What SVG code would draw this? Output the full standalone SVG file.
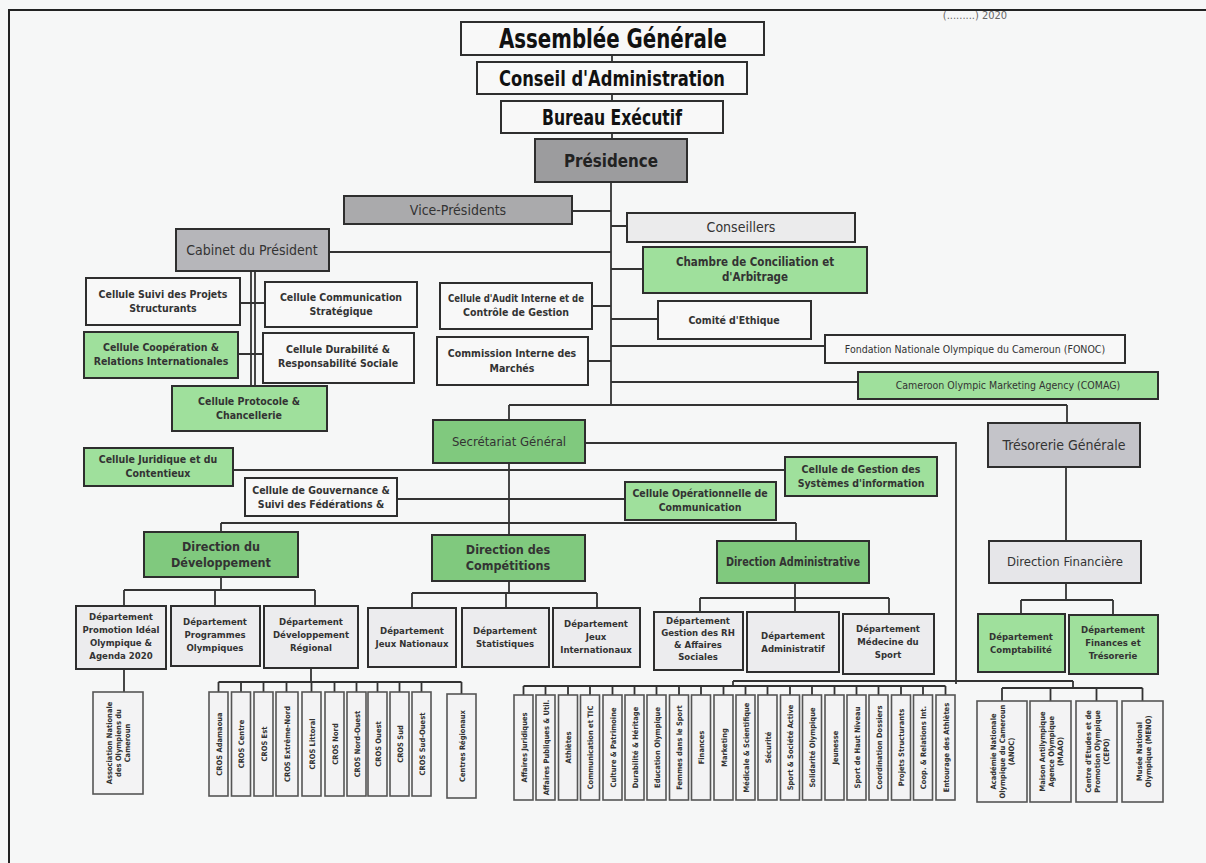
<svg xmlns="http://www.w3.org/2000/svg" width="1206" height="863" viewBox="0 0 1206 863">
<style>
.t{font-family:"Liberation Sans Narrow","DejaVu Sans Condensed","Liberation Sans",sans-serif;font-weight:bold;fill:#333;text-anchor:middle}
.n{font-weight:normal}
.b{stroke:#2e2e2e;stroke-width:2}
.bw{fill:#f8f8f8}
.bg{fill:#9fe09c}
.bdg{fill:#80c97e}
.bl{fill:#ececee}
.bv{fill:#f3f3f4;stroke:#555;stroke-width:1.6}
.c{fill:none;stroke:#333;stroke-width:1.8}
.s11{font-size:10.5px}
.s9{font-size:9.5px}
.s8{font-size:7.5px}
</style>
<rect width="1206" height="863" fill="#f6f7f7"/>
<path d="M8,10 H1206 M9,10 V863" stroke="#222" stroke-width="2" fill="none"/>
<text x="975" y="19" class="t n" font-size="11" style="fill:#666">(.........)  2020</text>

<g id="connectors" class="c">
<path d="M612,55V62M612,94V101M612,133V139"/>
<path d="M611,182V405M509,405H1067M509,405V420M1067,405V423"/>
<path d="M572,211H611M611,226H627M329,252H611M611,269H643M592,306H611M611,319H658M588,361H611M611,346H825M611,382H858"/>
<path d="M251,271V386M255,271V386M240,303H265M238,354H263"/>
<path d="M585,443H956V684"/>
<path d="M509,463V535M233,470H785M397,499H625M221,523H796M221,523V532M796,523V541"/>
<path d="M1066,467V541M1066,583V600M1021,600H1113M1021,600V614M1113,600V615"/>
<path d="M221,577V590M124,590H315M124,590V606M215,590V606M315,590V606"/>
<path d="M509,581V593M412,593H597M412,593V608M506,593V608M597,593V608"/>
<path d="M795,583V598M700,598H889M700,598V612M795,598V612M889,598V614"/>
<path d="M124,669V692M311,668V682M218.5,682H461.5"/>
<path d="M218.5,682V692M241,682V692M263.5,682V692M286.5,682V692M311.5,682V692M334.5,682V692M356.5,682V692M377.5,682V692M399.5,682V692M421.5,682V692M461.5,682V694"/>
<path d="M733,681H1073M733,681V686M1073,681V688M523.5,686H945.5"/>
<path d="M523.5,686V695M545.5,686V695M568,686V695M590,686V695M612.5,686V695M634.5,686V695M656.5,686V695M679,686V695M701,686V695M723.5,686V695M745.5,686V695M767.5,686V695M790,686V695M812,686V695M834.5,686V695M856.5,686V695M878.5,686V695M901,686V695M923,686V695M945.5,686V695"/>
<path d="M1002,688H1142.5M1002,688V701M1050.5,688V701M1096.5,688V701M1142.5,688V701"/>
</g>

<g id="assemblee"><rect x="461" y="22" width="303" height="33" class="b bw" stroke-width="2.8"/><text x="613" y="48" class="t" font-size="27" textLength="228" lengthAdjust="spacingAndGlyphs" style="fill:#111">Assemblée Générale</text></g>
<g id="conseil"><rect x="477" y="62" width="270" height="32" class="b bw" stroke-width="2.8"/><text x="612" y="86" class="t" font-size="22" textLength="226" lengthAdjust="spacingAndGlyphs" style="fill:#111">Conseil d'Administration</text></g>
<g id="bureau"><rect x="501" y="101" width="222" height="32" class="b bw" stroke-width="2.8"/><text x="612" y="125" class="t" font-size="21" textLength="140" lengthAdjust="spacingAndGlyphs" style="fill:#111">Bureau Exécutif</text></g>
<g id="presidence"><rect x="535" y="139" width="152" height="43" class="b" fill="#9c9c9e" stroke-width="2.5"/><text x="611" y="167" class="t" font-size="17" textLength="94" lengthAdjust="spacingAndGlyphs" style="fill:#222">Présidence</text></g>

<g id="vice"><rect x="344" y="196" width="228" height="28" class="b" fill="#aaaaac"/><text x="458" y="215" class="t n" font-size="14">Vice-Présidents</text></g>
<g id="conseillers"><rect x="627" y="213" width="228" height="29" class="b" fill="#ebebec"/><text x="741" y="232" class="t n" font-size="14">Conseillers</text></g>
<g id="cabinet"><rect x="176" y="229" width="153" height="42" class="b" fill="#b6b6ba"/><text x="252" y="255" class="t n" font-size="14">Cabinet du Président</text></g>
<g id="chambre"><rect x="643" y="247" width="224" height="46" class="b bg"/><text x="755" y="266" class="t" font-size="11.5">Chambre de Conciliation et</text><text x="755" y="281" class="t" font-size="11.5">d'Arbitrage</text></g>
<g id="audit"><rect x="440" y="283" width="152" height="46" class="b bw"/><text x="516" y="302" class="t s11" textLength="136" lengthAdjust="spacingAndGlyphs">Cellule d'Audit Interne et de</text><text x="516" y="316" class="t s11">Contrôle de Gestion</text></g>
<g id="comite"><rect x="658" y="301" width="153" height="38" class="b bw"/><text x="734" y="324" class="t s11">Comité d'Ethique</text></g>
<g id="commission"><rect x="437" y="337" width="151" height="48" class="b bw"/><text x="512" y="357" class="t s11">Commission Interne des</text><text x="512" y="372" class="t s11">Marchés</text></g>
<g id="fonoc"><rect x="825" y="335" width="300" height="28" class="b bw"/><text x="975" y="353" class="t n" font-size="10.5">Fondation Nationale Olympique du Cameroun (FONOC)</text></g>
<g id="comag"><rect x="858" y="372" width="300" height="27" class="b bg"/><text x="1008" y="389" class="t n" font-size="10.5">Cameroon Olympic Marketing Agency (COMAG)</text></g>

<g id="suivi"><rect x="86" y="278" width="154" height="47" class="b bw"/><text x="163" y="298" class="t s11">Cellule Suivi des Projets</text><text x="163" y="312" class="t s11">Structurants</text></g>
<g id="communication"><rect x="265" y="282" width="152" height="45" class="b bw"/><text x="341" y="301" class="t s11">Cellule Communication</text><text x="341" y="315" class="t s11">Stratégique</text></g>
<g id="cooperation"><rect x="84" y="332" width="154" height="46" class="b bg"/><text x="161" y="351" class="t s11">Cellule Coopération &amp;</text><text x="161" y="365" class="t s11">Relations Internationales</text></g>
<g id="durabilite"><rect x="263" y="333" width="151" height="50" class="b bw"/><text x="338" y="353" class="t s11">Cellule Durabilité &amp;</text><text x="338" y="367" class="t s11">Responsabilité Sociale</text></g>
<g id="protocole"><rect x="172" y="386" width="155" height="45" class="b bg"/><text x="249" y="405" class="t s11">Cellule Protocole &amp;</text><text x="249" y="419" class="t s11">Chancellerie</text></g>

<g id="secretariat"><rect x="433" y="420" width="152" height="43" class="b bdg" stroke-width="2.5"/><text x="509" y="446" class="t n" font-size="13">Secrétariat Général</text></g>
<g id="tresorerie"><rect x="988" y="423" width="152" height="44" class="b" fill="#c4c4c9" stroke-width="2.5"/><text x="1064" y="450" class="t n" font-size="14">Trésorerie Générale</text></g>
<g id="juridique"><rect x="84" y="448" width="149" height="38" class="b bg"/><text x="158" y="463" class="t s11">Cellule Juridique et du</text><text x="158" y="477" class="t s11">Contentieux</text></g>
<g id="gestion"><rect x="785" y="457" width="152" height="39" class="b bg"/><text x="861" y="473" class="t s11">Cellule de Gestion des</text><text x="861" y="487" class="t s11">Systèmes d'information</text></g>
<g id="gouvernance"><rect x="245" y="478" width="152" height="38" class="b bw"/><text x="321" y="494" class="t s11">Cellule de Gouvernance &amp;</text><text x="321" y="508" class="t s11">Suivi des Fédérations &amp;</text></g>
<g id="operationnelle"><rect x="625" y="482" width="151" height="38" class="b bg"/><text x="700" y="497" class="t s11">Cellule Opérationnelle de</text><text x="700" y="511" class="t s11">Communication</text></g>

<g id="dir-dev"><rect x="144" y="532" width="154" height="45" class="b bdg" stroke-width="2.5"/><text x="221" y="551" class="t" font-size="12.5">Direction du</text><text x="221" y="567" class="t" font-size="12.5">Développement</text></g>
<g id="dir-comp"><rect x="432" y="535" width="153" height="46" class="b bdg" stroke-width="2.5"/><text x="508" y="554" class="t" font-size="12.5">Direction des</text><text x="508" y="570" class="t" font-size="12.5">Compétitions</text></g>
<g id="dir-adm"><rect x="717" y="541" width="152" height="42" class="b bdg" stroke-width="2.5"/><text x="793" y="566" class="t" font-size="12.5" textLength="134" lengthAdjust="spacingAndGlyphs">Direction Administrative</text></g>
<g id="dir-fin"><rect x="989" y="541" width="152" height="42" class="b" fill="#e6e6e9" stroke-width="2.5"/><text x="1065" y="566" class="t n" font-size="13">Direction Financière</text></g>

<g id="dep-promo"><rect x="76" y="606" width="90" height="63" class="b bl"/><text x="121" y="620" class="t s9">Département</text><text x="121" y="633" class="t s9">Promotion Idéal</text><text x="121" y="646" class="t s9">Olympique &amp;</text><text x="121" y="659" class="t s9">Agenda 2020</text></g>
<g id="dep-prog"><rect x="171" y="606" width="89" height="60" class="b bl"/><text x="215" y="625" class="t s9">Département</text><text x="215" y="638" class="t s9">Programmes</text><text x="215" y="651" class="t s9">Olympiques</text></g>
<g id="dep-reg"><rect x="264" y="606" width="94" height="62" class="b bl"/><text x="311" y="625" class="t s9">Département</text><text x="311" y="638" class="t s9">Développement</text><text x="311" y="651" class="t s9">Régional</text></g>
<g id="dep-jn"><rect x="368" y="608" width="88" height="59" class="b bl"/><text x="412" y="634" class="t s9">Département</text><text x="412" y="647" class="t s9">Jeux Nationaux</text></g>
<g id="dep-stat"><rect x="462" y="608" width="87" height="59" class="b bl"/><text x="505" y="634" class="t s9">Département</text><text x="505" y="647" class="t s9">Statistiques</text></g>
<g id="dep-ji"><rect x="553" y="608" width="87" height="59" class="b bl"/><text x="596" y="627" class="t s9">Département</text><text x="596" y="640" class="t s9">Jeux</text><text x="596" y="653" class="t s9">Internationaux</text></g>
<g id="dep-rh"><rect x="654" y="612" width="89" height="58" class="b bl"/><text x="698" y="624" class="t s9">Département</text><text x="698" y="636" class="t s9">Gestion des RH</text><text x="698" y="648" class="t s9">&amp; Affaires</text><text x="698" y="660" class="t s9">Sociales</text></g>
<g id="dep-adm"><rect x="747" y="612" width="92" height="60" class="b bl"/><text x="793" y="639" class="t s9">Département</text><text x="793" y="652" class="t s9">Administratif</text></g>
<g id="dep-med"><rect x="843" y="614" width="91" height="60" class="b bl"/><text x="888" y="632" class="t s9">Département</text><text x="888" y="645" class="t s9">Médecine du</text><text x="888" y="658" class="t s9">Sport</text></g>
<g id="dep-compta"><rect x="978" y="614" width="87" height="58" class="b bg"/><text x="1021" y="640" class="t s9">Département</text><text x="1021" y="653" class="t s9">Comptabilité</text></g>
<g id="dep-fin"><rect x="1069" y="615" width="89" height="59" class="b bg"/><text x="1113" y="633" class="t s9">Département</text><text x="1113" y="646" class="t s9">Finances et</text><text x="1113" y="659" class="t s9">Trésorerie</text></g>

<g id="anoc-assoc"><rect x="93" y="692" width="50" height="102" class="bv"/><g transform="translate(118,743) rotate(-90)"><text y="-6" class="t s8">Association Nationale</text><text y="3" class="t s8">des Olympiens du</text><text y="12" class="t s8">Cameroun</text></g></g>

<g id="cros">
<rect x="209" y="692" width="19" height="104" class="bv"/><text transform="translate(221.5,744) rotate(-90)" class="t s8">CROS Adamaoua</text>
<rect x="231.5" y="692" width="19" height="104" class="bv"/><text transform="translate(244,744) rotate(-90)" class="t s8">CROS Centre</text>
<rect x="254" y="692" width="19" height="104" class="bv"/><text transform="translate(266.5,744) rotate(-90)" class="t s8">CROS Est</text>
<rect x="276" y="692" width="22" height="104" class="bv"/><text transform="translate(290,744) rotate(-90)" class="t s8">CROS Extrême-Nord</text>
<rect x="302" y="692" width="19" height="104" class="bv"/><text transform="translate(314.5,744) rotate(-90)" class="t s8">CROS Littoral</text>
<rect x="325" y="692" width="19" height="104" class="bv"/><text transform="translate(337.5,744) rotate(-90)" class="t s8">CROS Nord</text>
<rect x="347" y="692" width="19" height="104" class="bv"/><text transform="translate(359.5,744) rotate(-90)" class="t s8">CROS Nord-Ouest</text>
<rect x="368" y="692" width="19" height="104" class="bv"/><text transform="translate(380.5,744) rotate(-90)" class="t s8">CROS Ouest</text>
<rect x="390" y="692" width="19" height="104" class="bv"/><text transform="translate(402.5,744) rotate(-90)" class="t s8">CROS Sud</text>
<rect x="412" y="692" width="19" height="104" class="bv"/><text transform="translate(424.5,744) rotate(-90)" class="t s8">CROS Sud-Ouest</text>
<rect x="447" y="694" width="29" height="104" class="bv"/><text transform="translate(464.5,746) rotate(-90)" class="t s8">Centres Régionaux</text>
</g>

<g id="commissions">
<rect x="514" y="695" width="19" height="105" class="bv"/><text transform="translate(526.5,747.5) rotate(-90)" class="t s8">Affaires Juridiques</text>
<rect x="536" y="695" width="19" height="105" class="bv"/><text transform="translate(548.5,747.5) rotate(-90)" class="t s8">Affaires Publiques &amp; Util.</text>
<rect x="558.5" y="695" width="19" height="105" class="bv"/><text transform="translate(571,747.5) rotate(-90)" class="t s8">Athlètes</text>
<rect x="580.5" y="695" width="19" height="105" class="bv"/><text transform="translate(593,747.5) rotate(-90)" class="t s8">Communication et TIC</text>
<rect x="603" y="695" width="19" height="105" class="bv"/><text transform="translate(615.5,747.5) rotate(-90)" class="t s8">Culture &amp; Patrimoine</text>
<rect x="625" y="695" width="19" height="105" class="bv"/><text transform="translate(637.5,747.5) rotate(-90)" class="t s8">Durabilité &amp; Héritage</text>
<rect x="647" y="695" width="19" height="105" class="bv"/><text transform="translate(659.5,747.5) rotate(-90)" class="t s8">Education Olympique</text>
<rect x="669.5" y="695" width="19" height="105" class="bv"/><text transform="translate(682,747.5) rotate(-90)" class="t s8">Femmes dans le Sport</text>
<rect x="691.5" y="695" width="19" height="105" class="bv"/><text transform="translate(704,747.5) rotate(-90)" class="t s8">Finances</text>
<rect x="714" y="695" width="19" height="105" class="bv"/><text transform="translate(726.5,747.5) rotate(-90)" class="t s8">Marketing</text>
<rect x="736" y="695" width="19" height="105" class="bv"/><text transform="translate(748.5,747.5) rotate(-90)" class="t s8">Médicale &amp; Scientifique</text>
<rect x="758" y="695" width="19" height="105" class="bv"/><text transform="translate(770.5,747.5) rotate(-90)" class="t s8">Sécurité</text>
<rect x="780.5" y="695" width="19" height="105" class="bv"/><text transform="translate(793,747.5) rotate(-90)" class="t s8">Sport &amp; Société Active</text>
<rect x="802.5" y="695" width="19" height="105" class="bv"/><text transform="translate(815,747.5) rotate(-90)" class="t s8">Solidarité Olympique</text>
<rect x="825" y="695" width="19" height="105" class="bv"/><text transform="translate(837.5,747.5) rotate(-90)" class="t s8">Jeunesse</text>
<rect x="847" y="695" width="19" height="105" class="bv"/><text transform="translate(859.5,747.5) rotate(-90)" class="t s8">Sport de Haut Niveau</text>
<rect x="869" y="695" width="19" height="105" class="bv"/><text transform="translate(881.5,747.5) rotate(-90)" class="t s8">Coordination Dossiers</text>
<rect x="891.5" y="695" width="19" height="105" class="bv"/><text transform="translate(904,747.5) rotate(-90)" class="t s8">Projets Structurants</text>
<rect x="913.5" y="695" width="19" height="105" class="bv"/><text transform="translate(926,747.5) rotate(-90)" class="t s8">Coop. &amp; Relations Int.</text>
<rect x="936" y="695" width="19" height="105" class="bv"/><text transform="translate(948.5,747.5) rotate(-90)" class="t s8">Entourage des Athlètes</text>
</g>

<g id="entites">
<rect x="977" y="701" width="50" height="101" class="bv"/><g transform="translate(1002,751.5) rotate(-90)"><text y="-6" class="t s8">Académie Nationale</text><text y="3" class="t s8">Olympique du Cameroun</text><text y="12" class="t s8">(ANOC)</text></g>
<rect x="1030" y="701" width="41" height="101" class="bv"/><g transform="translate(1050.5,751.5) rotate(-90)"><text y="-6" class="t s8">Maison Antilympique</text><text y="3" class="t s8">Agence Olympique</text><text y="12" class="t s8">(MAAO)</text></g>
<rect x="1076" y="701" width="41" height="101" class="bv"/><g transform="translate(1096.5,751.5) rotate(-90)"><text y="-6" class="t s8">Centre d'Etudes et de</text><text y="3" class="t s8">Promotion Olympique</text><text y="12" class="t s8">(CEPO)</text></g>
<rect x="1122" y="701" width="41" height="101" class="bv"/><g transform="translate(1142.5,751.5) rotate(-90)"><text y="-1" class="t s8">Musée National</text><text y="8" class="t s8">Olympique (MENO)</text></g>
</g>
</svg>
